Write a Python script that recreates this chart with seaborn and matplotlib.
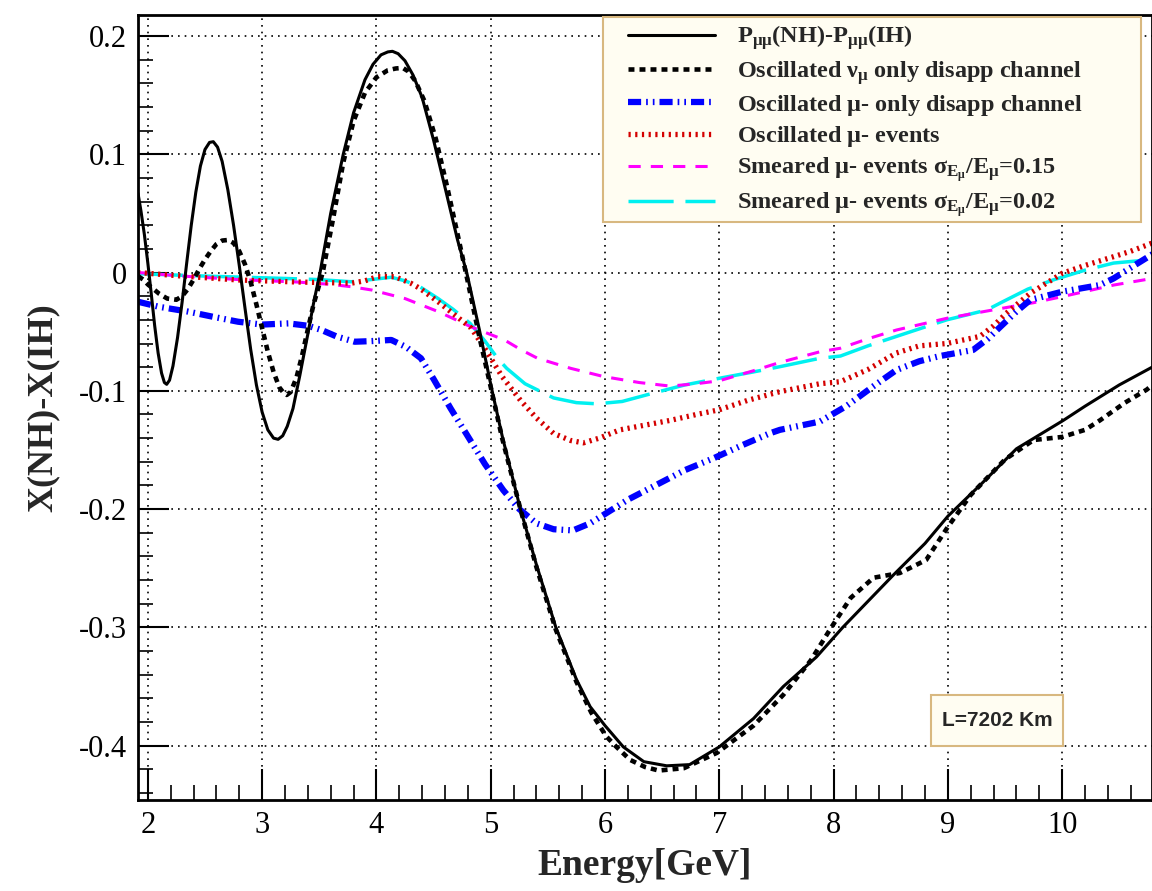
import numpy as np
import pandas as pd
import matplotlib
matplotlib.use("Agg")
import matplotlib.pyplot as plt
from matplotlib.patches import Rectangle
from matplotlib.ticker import MultipleLocator
import seaborn as sns

# ---------------- data ----------------
p_x = [1.914, 1.94, 1.97, 2.0, 2.03, 2.06, 2.09, 2.12, 2.145, 2.165, 2.19, 2.22, 2.26, 2.3, 2.34, 2.38,
       2.42, 2.46, 2.50, 2.54, 2.573, 2.61, 2.65, 2.70, 2.75, 2.8, 2.85, 2.9, 2.95, 3.0, 3.05, 3.1, 3.14,
       3.18, 3.22, 3.27, 3.33, 3.4, 3.45, 3.507, 3.6, 3.71, 3.8, 3.9, 3.97, 4.04, 4.1, 4.14, 4.19, 4.25,
       4.32, 4.4, 4.5, 4.6, 4.71, 4.79, 4.9, 5.01, 5.1, 5.26, 5.4, 5.57, 5.75, 5.87, 6.0, 6.16, 6.34,
       6.54, 6.74, 7.0, 7.3, 7.56, 7.85, 8.08, 8.3, 8.52, 8.8, 9.0, 9.3, 9.6, 10.01, 10.2, 10.5, 10.787]
p_y = [0.067, 0.052, 0.032, 0.008, -0.018, -0.045, -0.068, -0.085, -0.093, -0.0945, -0.091, -0.079,
       -0.055, -0.025, 0.008, 0.040, 0.068, 0.090, 0.104, 0.110, 0.1106, 0.106, 0.094, 0.070, 0.040,
       0.006, -0.030, -0.065, -0.095, -0.118, -0.133, -0.140, -0.141, -0.138, -0.130, -0.115, -0.087,
       -0.052, -0.026, 0.0, 0.050, 0.100, 0.135, 0.163, 0.176, 0.184, 0.1865, 0.187, 0.185, 0.179,
       0.167, 0.148, 0.112, 0.072, 0.0275, 0.0, -0.048, -0.099, -0.138, -0.200, -0.247, -0.300, -0.344,
       -0.367, -0.383, -0.401, -0.4135, -0.417, -0.416, -0.401, -0.377, -0.350, -0.325, -0.300, -0.278,
       -0.256, -0.229, -0.206, -0.178, -0.149, -0.125, -0.113, -0.095, -0.080]

nu_x = [1.914, 1.96, 2.0, 2.05, 2.1, 2.17, 2.25, 2.3, 2.35, 2.4, 2.45, 2.5, 2.55, 2.6, 2.65, 2.70, 2.75,
        2.8, 2.85, 2.9, 2.95, 3.0, 3.05, 3.1, 3.15, 3.19, 3.215, 3.25, 3.3, 3.35, 3.4, 3.45, 3.53, 3.62,
        3.71, 3.8, 3.9, 4.0, 4.1, 4.17, 4.23, 4.28, 4.34, 4.42, 4.52, 4.62, 4.72, 4.8, 4.9, 5.01, 5.1,
        5.26, 5.4, 5.57, 5.75, 5.88, 6.01, 6.10, 6.22, 6.35, 6.47, 6.69, 6.98, 7.3, 7.56, 7.8, 7.98, 8.15,
        8.35, 8.58, 8.81, 9.0, 9.2, 9.5, 9.75, 10.0, 10.2, 10.33, 10.55, 10.74, 10.79]
nu_y = [-0.003, -0.006, -0.010, -0.014, -0.018, -0.022, -0.023, -0.020, -0.014, -0.006, 0.003, 0.011,
        0.018, 0.024, 0.027, 0.0275, 0.025, 0.018, 0.007, -0.008, -0.027, -0.047, -0.067, -0.084, -0.097,
        -0.102, -0.1035, -0.101, -0.089, -0.070, -0.048, -0.027, 0.0, 0.045, 0.093, 0.128, 0.152, 0.165,
        0.171, 0.1725, 0.173, 0.170, 0.162, 0.145, 0.113, 0.072, 0.028, -0.008, -0.054, -0.101, -0.140,
        -0.200, -0.249, -0.302, -0.346, -0.372, -0.392, -0.401, -0.412, -0.418, -0.421, -0.419, -0.406,
        -0.383, -0.357, -0.328, -0.300, -0.275, -0.258, -0.254, -0.243, -0.215, -0.188, -0.158, -0.1416,
        -0.139, -0.133, -0.125, -0.110, -0.099, -0.095]

mu_x = [1.914, 2.1, 2.35, 2.6, 2.79, 3.0, 3.23, 3.4, 3.52, 3.65, 3.81, 3.95, 4.13, 4.26, 4.39, 4.5, 4.65,
        4.82, 4.95, 5.11, 5.25, 5.40, 5.55, 5.72, 5.87, 6.01, 6.2, 6.42, 6.7, 6.95, 7.2, 7.44, 7.53, 7.88,
        8.11, 8.35, 8.55, 8.75, 8.93, 9.22, 9.35, 9.46, 9.6, 9.72, 10.0, 10.33, 10.45, 10.59, 10.79]
mu_y = [-0.0247, -0.029, -0.033, -0.038, -0.0416, -0.044, -0.043, -0.045, -0.0486, -0.054, -0.0585,
        -0.058, -0.057, -0.063, -0.0725, -0.090, -0.115, -0.1416, -0.162, -0.184, -0.200, -0.212, -0.217,
        -0.218, -0.212, -0.2035, -0.192, -0.181, -0.167, -0.157, -0.146, -0.136, -0.133, -0.126, -0.113,
        -0.096, -0.0824, -0.075, -0.0706, -0.0655, -0.056, -0.0458, -0.033, -0.0232, -0.0162, -0.0106,
        -0.005, 0.0035, 0.0155]

ev_x = [1.914, 2.3, 2.79, 3.3, 3.78, 3.9, 4.01, 4.16, 4.3, 4.38, 4.54, 4.7, 4.83, 4.96, 5.1, 5.26, 5.4,
        5.55, 5.7, 5.81, 5.95, 6.13, 6.35, 6.57, 6.8, 7.0, 7.25, 7.53, 7.88, 8.06, 8.3, 8.55, 8.75, 8.99,
        9.28, 9.4, 9.51, 9.72, 10.0, 10.2, 10.45, 10.6, 10.79]
ev_y = [0.0, -0.003, -0.0063, -0.008, -0.009, -0.007, -0.0035, -0.0035, -0.009, -0.0134, -0.0247, -0.037,
        -0.047, -0.066, -0.088, -0.108, -0.123, -0.136, -0.142, -0.144, -0.140, -0.133, -0.129, -0.125,
        -0.120, -0.116, -0.108, -0.1007, -0.094, -0.0923, -0.082, -0.068, -0.062, -0.060, -0.054, -0.045,
        -0.0345, -0.0176, -0.0007, 0.006, 0.0134, 0.018, 0.025]

s15_x = [1.914, 2.3, 2.8, 3.3, 3.6, 3.78, 3.96, 4.25, 4.54, 4.83, 5.12, 5.26, 5.41, 5.7, 5.99, 6.3, 6.57,
         6.8, 7.0, 7.3, 7.53, 7.88, 8.06, 8.3, 8.55, 8.99, 9.43, 9.75, 10.0, 10.45, 10.79]
s15_y = [0.0, -0.003, -0.006, -0.008, -0.010, -0.012, -0.0148, -0.022, -0.033, -0.046, -0.057, -0.065,
         -0.0725, -0.081, -0.088, -0.093, -0.096, -0.094, -0.0915, -0.083, -0.076, -0.067, -0.064, -0.056,
         -0.0486, -0.0387, -0.031, -0.0255, -0.0204, -0.0106, -0.005]

s02_x = [1.914, 2.5, 3.2, 3.5, 3.78, 3.95, 4.13, 4.25, 4.38, 4.54, 4.67, 4.82, 4.95, 5.06, 5.14, 5.3,
         5.55, 5.75, 5.93, 6.15, 6.42, 6.7, 7.0, 7.3, 7.53, 7.88, 8.06, 8.3, 8.55, 8.99, 9.34, 9.48, 9.7,
         9.92, 10.2, 10.45, 10.79]
s02_y = [-0.001, -0.003, -0.005, -0.006, -0.0078, -0.006, -0.004, -0.007, -0.012, -0.022, -0.031, -0.043,
         -0.058, -0.0725, -0.081, -0.094, -0.106, -0.110, -0.111, -0.109, -0.102, -0.095, -0.0894, -0.084,
         -0.0796, -0.0725, -0.0706, -0.062, -0.054, -0.040, -0.0317, -0.0247, -0.014, -0.0063, 0.002,
         0.008, 0.011]

labels = [
    r"$\mathbf{P_{\mu\mu}(NH)\text{-}P_{\mu\mu}(IH)}$",
    r"Oscillated $\nu_{\mu}$ only disapp channel",
    r"Oscillated $\mu$- only disapp channel",
    r"Oscillated $\mu$- events",
    r"Smeared $\mu$- events $\sigma_{E_{\mu}}$/$\mathbf{E_{\mu}}$=0.15",
    r"Smeared $\mu$- events $\sigma_{E_{\mu}}$/$\mathbf{E_{\mu}}$=0.02",
]
x_ticks = [2, 3, 4, 5, 6, 7, 8, 9, 10]
y_ticks = [-0.4, -0.3, -0.2, -0.1, 0.0, 0.1, 0.2]
y_tick_labels = ["-0.4", "-0.3", "-0.2", "-0.1", "0", "0.1", "0.2"]

# ---------------- style ----------------
sns.set_theme(style="white")
plt.rcParams["font.family"] = ["Liberation Serif", "DejaVu Serif"]
plt.rcParams["mathtext.fontset"] = "custom"
plt.rcParams["mathtext.rm"] = "Liberation Serif:bold"
plt.rcParams["mathtext.it"] = "Liberation Serif:bold"
plt.rcParams["mathtext.bf"] = "Liberation Serif:bold"

fig = plt.figure(figsize=(11.52, 8.91), dpi=100)
ax = fig.add_axes([138 / 1152, 91 / 891, 1014 / 1152, 785 / 891])

series = [
    (p_x, p_y, dict(color="black", lw=2.2, linestyle="-")),
    (nu_x, nu_y, dict(color="black", lw=3.3, linestyle=(0, (1.3, 1.1)))),
    (mu_x, mu_y, dict(color="#0000ff", lw=4.5, linestyle=(0, (2.1, 0.8, 0.27, 0.8, 0.27, 0.8)))),
    (ev_x, ev_y, dict(color="#d40000", lw=3.8, linestyle=(0, (0.42, 0.85)))),
    (s15_x, s15_y, dict(color="#ff00ff", lw=2.2, linestyle=(0, (4.0, 3.3)))),
    (s02_x, s02_y, dict(color="#00f0f0", lw=2.5, linestyle=(0, (13.0, 3.4)))),
]
order = [5, 4, 3, 2, 1, 0]
handles = [None] * len(series)
for i in order:
    xs, ys, kw = series[i]
    df = pd.DataFrame({"E": xs, "D": ys})
    sns.lineplot(data=df, x="E", y="D", ax=ax, sort=False, errorbar=None, **kw)
    ln = ax.get_lines()[-1]
    ln.set_dash_capstyle("butt")
    ln.set_solid_capstyle("round")
    ln.set_solid_joinstyle("round")
    handles[i] = ln

ax.set_xlim(1.914, 10.786)
ax.set_ylim(-0.4459, 0.2177)
ax.set_xticks(x_ticks)
ax.set_xticklabels([str(t) for t in x_ticks])
ax.set_yticks(y_ticks)
ax.set_yticklabels(y_tick_labels)
ax.xaxis.set_minor_locator(MultipleLocator(0.2))
ax.yaxis.set_minor_locator(MultipleLocator(0.02))
ax.tick_params(axis="both", which="major", direction="in", length=22, width=1.5,
               labelsize=22, colors="black", pad=8)
ax.tick_params(axis="both", which="minor", direction="in", length=11, width=1.2, colors="black")
ax.tick_params(axis="y", which="both", left=True, right=False)
ax.tick_params(axis="x", which="both", bottom=True, top=False)
ax.grid(True, which="major", color="black", linestyle=(0, (1, 3)), lw=1.2)
for s in ax.spines.values():
    s.set_color("black")
    s.set_linewidth(2)

ax.set_xlabel("Energy[GeV]", fontsize=27, fontweight="bold", labelpad=6)
ax.set_ylabel("X(NH)-X(IH)", fontsize=26, fontweight="bold", labelpad=14)

# legend frame drawn separately, legend content placed inside it
leg_frame = Rectangle((0.4586, 0.736), 0.5305, 0.2615, transform=ax.transAxes,
                      facecolor="#fffdf2", edgecolor="#d8b880", lw=1.5, zorder=9)
ax.add_patch(leg_frame)
leg = ax.legend(handles=handles, labels=labels, loc="upper left",
                bbox_to_anchor=(0.4832, 0.989), borderaxespad=0,
                handlelength=3.6, handletextpad=0.9, labelspacing=0.26, borderpad=0.0,
                frameon=False, prop={"weight": "bold", "size": 17.5})
leg.set_zorder(10)

rect = Rectangle((0.782, 0.0688), 0.130, 0.065, transform=ax.transAxes,
                 facecolor="#fffdf2", edgecolor="#d8b880", lw=1.5, zorder=5)
ax.add_patch(rect)
ax.text(0.847, 0.1013, "L=7202 Km", transform=ax.transAxes, ha="center", va="center",
        fontsize=15, fontweight="bold", family=["Liberation Sans", "DejaVu Sans"], zorder=6)

fig.savefig("out.png", dpi=100)
